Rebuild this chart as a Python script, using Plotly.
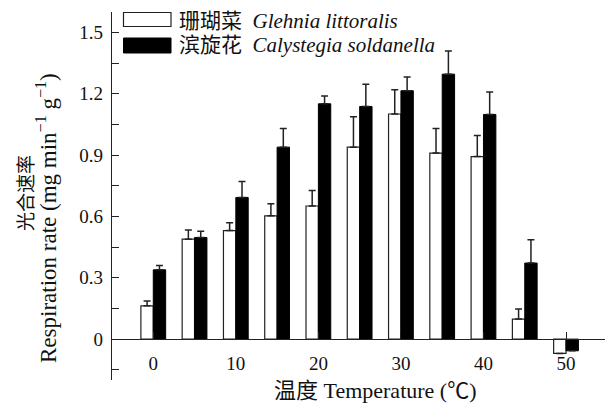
import plotly.graph_objects as go

# ---- data ----
temperature = [0, 5, 10, 15, 20, 25, 30, 35, 40, 45, 50]
glehnia = [0.163, 0.489, 0.531, 0.603, 0.651, 0.939, 1.101, 0.910, 0.893, 0.098, -0.070]
glehnia_err = [0.024, 0.045, 0.038, 0.059, 0.076, 0.149, 0.119, 0.120, 0.103, 0.049, 0.0]
calystegia = [0.339, 0.497, 0.693, 0.939, 1.151, 1.138, 1.215, 1.296, 1.099, 0.372, -0.057]
calystegia_err = [0.021, 0.030, 0.078, 0.091, 0.038, 0.109, 0.067, 0.113, 0.110, 0.114, 0.0]
x_ticks = [0, 10, 20, 30, 40, 50]
name_glehnia = "珊瑚菜\u2002<i>Glehnia littoralis</i>"
name_calystegia = "滨旋花\u2002<i>Calystegia soldanella</i>"

W, H = 605, 406
ML, MR, MT, MB = 112, 0, 12, 26
FONT = "Liberation Serif, Times New Roman, Noto Sans CJK SC"

def px_x(p):
    return (p - ML) / (W - ML - MR)

def px_y(p):
    return (H - MB - p) / (H - MT - MB)

fig = go.Figure()
fig.add_trace(go.Bar(
    x=temperature, y=glehnia, name=name_glehnia, width=1.5,
    marker=dict(color="white", line=dict(color="#222", width=1.2)),
    error_y=dict(type="data", array=glehnia_err, symmetric=False,
                 arrayminus=[0] * len(glehnia_err), color="#222",
                 thickness=1.5, width=3.5),
))
fig.add_trace(go.Bar(
    x=temperature, y=calystegia, name=name_calystegia, width=1.5,
    marker=dict(color="black", line=dict(color="black", width=1)),
    error_y=dict(type="data", array=calystegia_err, symmetric=False,
                 arrayminus=[0] * len(calystegia_err), color="#222",
                 thickness=1.5, width=3.5),
))

fig.update_layout(
    width=W, height=H,
    margin=dict(l=ML, r=MR, t=MT, b=MB, autoexpand=False),
    paper_bgcolor="white", plot_bgcolor="white",
    barmode="group", bargap=0.4, bargroupgap=0,
    showlegend=False,
    font=dict(family=FONT, size=19, color="#111"),
    xaxis=dict(
        range=[-5, 54.72], anchor="free", position=0.2 / 1.8,
        automargin=False,
        showline=True, linecolor="#222", linewidth=1.2,
        tickmode="array", tickvals=x_ticks,
        ticks="inside", ticklen=7, tickcolor="#222", tickwidth=1.2,
        ticklabelstandoff=7,
        showgrid=False, zeroline=False,
        tickfont=dict(family=FONT, size=19, color="#111"),
    ),
    yaxis=dict(
        range=[-0.2, 1.6], automargin=False,
        showline=True, linecolor="#222", linewidth=1.2,
        tick0=0, dtick=0.3,
        ticks="inside", ticklen=7, tickcolor="#222", tickwidth=1.2,
        minor=dict(ticks="inside", ticklen=7, tick0=0, dtick=0.15,
                   tickcolor="#222", tickwidth=1.2),
        ticklabelstandoff=4,
        showgrid=False, zeroline=False,
        tickfont=dict(family=FONT, size=19, color="#111"),
    ),
)

# custom legend
shapes = [
    dict(type="rect", xref="paper", yref="paper",
         x0=px_x(123.5), x1=px_x(171), y0=px_y(26.5), y1=px_y(12.5),
         line=dict(color="#222", width=1.2), fillcolor="white"),
    dict(type="rect", xref="paper", yref="paper",
         x0=px_x(123.5), x1=px_x(171), y0=px_y(53), y1=px_y(38),
         line=dict(color="black", width=1), fillcolor="black"),
]
fig.update_layout(shapes=shapes)

ann = [
    dict(text=name_glehnia, x=px_x(177), y=px_y(21), xanchor="left", yanchor="middle", size=21),
    dict(text=name_calystegia, x=px_x(177), y=px_y(45), xanchor="left", yanchor="middle", size=21),
    dict(text="温度 Temperature (℃)", x=px_x(375), y=px_y(390), xanchor="center", yanchor="middle", size=22),
    dict(text="光合速率", x=px_x(26), y=px_y(193), xanchor="center", yanchor="middle", textangle=-90, size=19),
    dict(text="Respiration rate (mg min<sup>−1</sup> g<sup>−1</sup>)", x=px_x(47), y=px_y(218),
         xanchor="center", yanchor="middle", textangle=-90, size=23),
]
for a in ann:
    s = a.pop("size")
    a.update(xref="paper", yref="paper", showarrow=False,
             font=dict(family=FONT, size=s, color="#111"))
fig.update_layout(annotations=ann)

fig.write_html("out.html", config={"displayModeBar": False},
               post_script="document.body.style.margin='0';")
